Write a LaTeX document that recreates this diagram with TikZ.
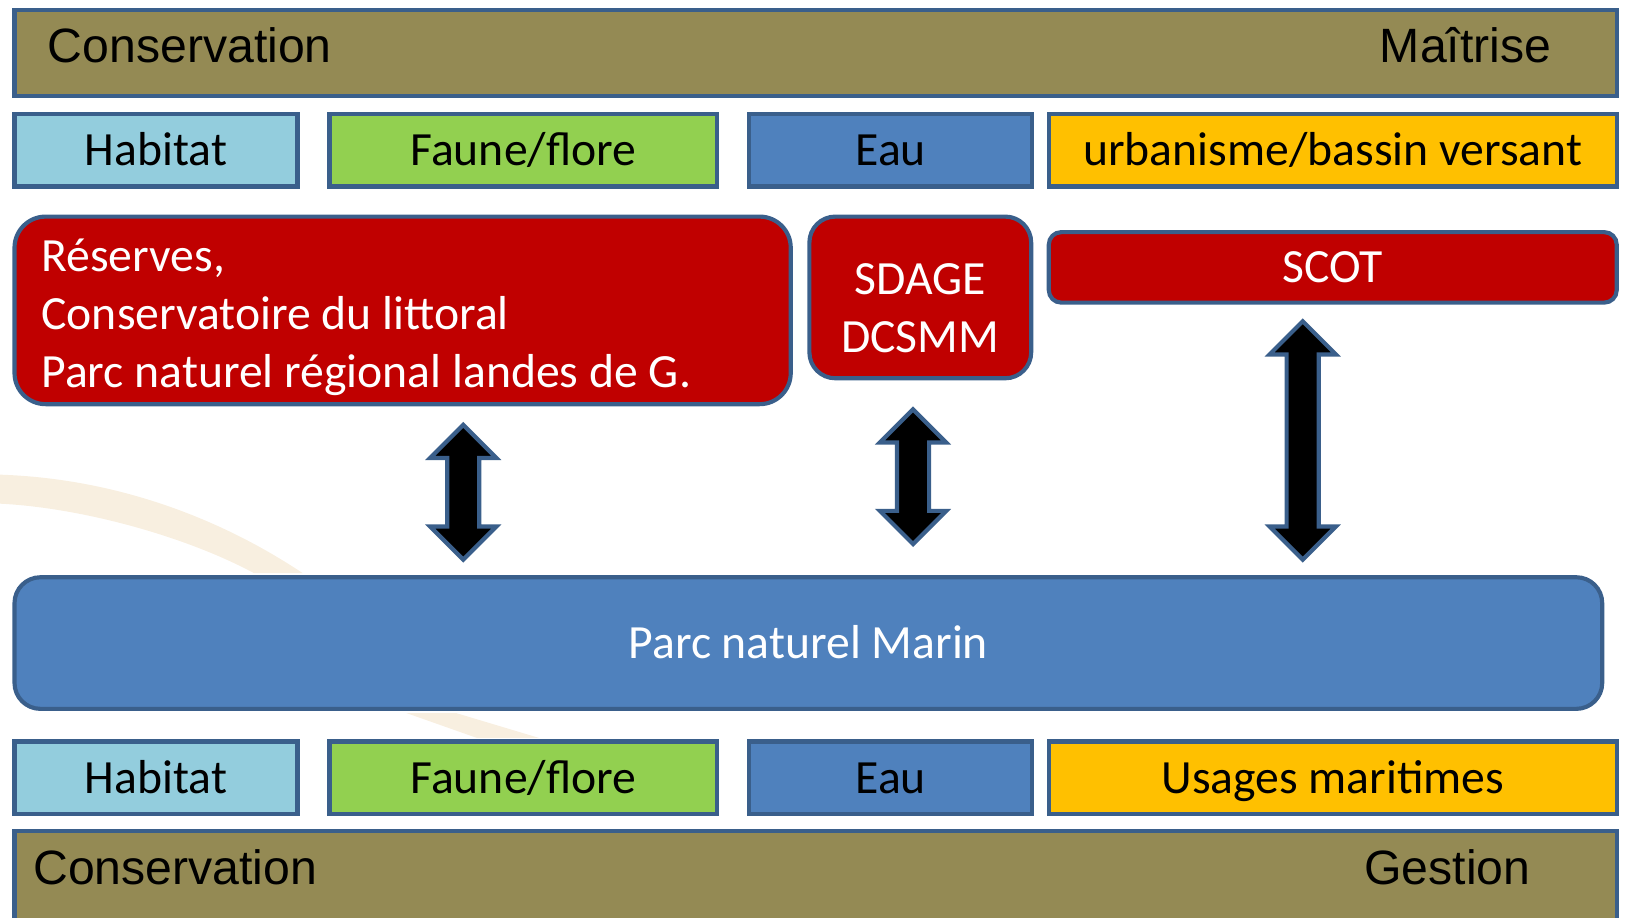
\documentclass[tikz,border=0pt]{standalone}
\usepackage{fontspec}
\setmainfont{Carlito}
\newfontfamily\arialfont{Liberation Sans}
\usetikzlibrary{shapes.arrows}

\definecolor{edge}{HTML}{3A5F8B}
\definecolor{bandfill}{HTML}{948A54}
\definecolor{habfill}{HTML}{93CDDD}
\definecolor{faunefill}{HTML}{92D050}
\definecolor{eaufill}{HTML}{4F81BD}
\definecolor{usefill}{HTML}{FFC000}
\definecolor{planfill}{HTML}{C00000}
\definecolor{swoosh}{HTML}{F8EFE0}

\begin{document}
\begin{tikzpicture}[x=1pt, y=-1pt,
		band/.style={draw=edge, line width=4pt, fill=bandfill, inner sep=0pt,
			minimum width=1546, minimum height=83},
		bandtext/.style={inner sep=0pt, font=\arialfont\fontsize{46.5}{54}\selectfont},
		tag/.style={draw=edge, line width=4pt, inner sep=0pt, minimum height=70,
			text height=29.5pt, text depth=0pt, font=\fontsize{46}{56}\selectfont},
		plan/.style={draw=edge, line width=4pt, fill=planfill, text=white, inner sep=0pt,
			font=\fontsize{46}{56}\selectfont},
		dblarrow/.style={double arrow, draw=edge, line width=4pt, fill=black,
			inner sep=13.5pt, double arrow head extend=16.5pt, rotate=90}]
	\useasboundingbox (0,0) rectangle (1568,885);

	% faint logo in the background
	\fill[swoosh] (0,458) .. controls (120,462) and (220,505) .. (292,553)
		-- (245,553) .. controls (180,518) and (80,490) .. (0,486) -- cycle;
	\fill[swoosh] (392,688) -- (440,688) -- (520,712) -- (460,712) -- cycle;

	% upper bands
	\node[band]                          (top)     at (787,51.5)  {};
	\node[bandtext, anchor=base west]    (cons1)   at (46,60)     {Conservation};
	\node[bandtext, anchor=base east]    (maitr)   at (1497,60)   {Maîtrise};

	\node[tag, fill=habfill,   minimum width=273]  (hab1)   at (150.5,145)  {Habitat};
	\node[tag, fill=faunefill, minimum width=374]  (faune1) at (505,145)    {Faune/flore};
	\node[tag, fill=eaufill,   minimum width=273]  (eau1)   at (859.5,145)  {Eau};
	\node[tag, fill=usefill,   minimum width=548]  (urba)   at (1286,145)   {urbanisme/bassin versant};

	% plans
	\node[plan, rounded corners=30pt, minimum width=749, minimum height=181,
		text width=697, align=flush left]    (reserves) at (388.5,299.5)
		{\rule{0pt}{44pt}Réserves,\\Conservatoire du littoral\\Parc naturel régional landes de G.};
	\node[plan, rounded corners=25pt, minimum width=214, minimum height=156,
		align=center]                        (sdage)   at (888,287)
		{\rule{0pt}{50pt}SDAGE\\DCSMM};
	\node[plan, rounded corners=12pt, minimum width=548, minimum height=68,
		text height=29.5pt, text depth=0pt]  (scot)    at (1286,258)  {SCOT};

	% marine park
	\node[tag, fill=eaufill, text=white, rounded corners=25pt,
		minimum width=1532, minimum height=127] (parc) at (780,620.5) {Parc naturel Marin};

	\node[dblarrow, minimum height=130] (arr1) at (447,475) {};
	\node[dblarrow, minimum height=130] (arr2) at (881,460) {};
	\node[dblarrow, minimum height=230] (arr3) at (1257,425) {};

	% lower bands
	\node[tag, fill=habfill,   minimum width=273]  (hab2)   at (150.5,750.5) {Habitat};
	\node[tag, fill=faunefill, minimum width=374]  (faune2) at (505,750.5)   {Faune/flore};
	\node[tag, fill=eaufill,   minimum width=273]  (eau2)   at (859.5,750.5) {Eau};
	\node[tag, fill=usefill,   minimum width=548]  (usages) at (1286,750.5)  {Usages maritimes};

	\node[band, minimum height=100]      (bottom)  at (787,852)   {};
	\node[bandtext, anchor=base west]    (cons2)   at (32,853)    {Conservation};
	\node[bandtext, anchor=base east]    (gest)    at (1477,853)  {Gestion};
\end{tikzpicture}
\end{document}
